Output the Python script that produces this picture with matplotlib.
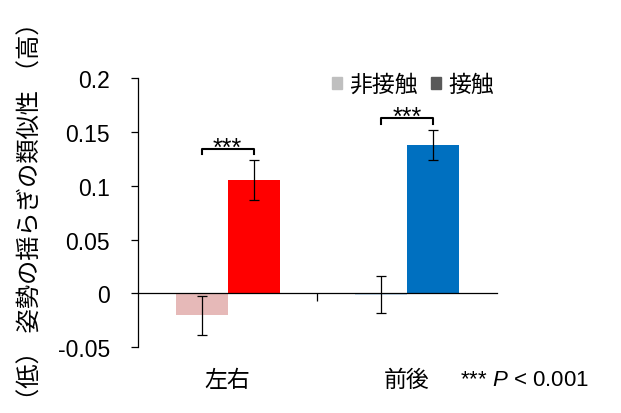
import matplotlib.pyplot as plt
from matplotlib.patches import Patch

plt.rcParams['font.family'] = ['Liberation Sans', 'Noto Sans CJK JP']
plt.rcParams['mathtext.fontset'] = 'custom'
plt.rcParams['mathtext.rm'] = 'Liberation Sans'
plt.rcParams['mathtext.it'] = 'Liberation Sans:italic'

categories = ['左右', '前後']
no_touch = [-0.0205, -0.0013]
no_touch_err = [0.0185, 0.017]
touch = [0.105, 0.138]
touch_err = [0.0185, 0.014]
yticks = [-0.05, 0, 0.05, 0.1, 0.15, 0.2]
ytick_labels = ['-0.05', '0', '0.05', '0.1', '0.15', '0.2']

no_touch_colors = ['#e6b9b8', '#c5dbed']
touch_colors = ['#ff0000', '#0070c0']

fig = plt.figure(figsize=(6.21, 4.14), dpi=100)
ax = fig.add_axes([0.222, 0.159, 0.578, 0.650])

w = 0.29
x = [0, 1]
x_nt = [i - w / 2 for i in x]
x_t = [i + w / 2 for i in x]

ax.bar(x_nt, no_touch, w, color=no_touch_colors)
ax.bar(x_t, touch, w, color=touch_colors)
ax.errorbar(x_nt, no_touch, yerr=no_touch_err, fmt='none', ecolor='black',
            elinewidth=0.9, capsize=3.5, capthick=0.9)
ax.errorbar(x_t, touch, yerr=touch_err, fmt='none', ecolor='black',
            elinewidth=0.9, capsize=3.5, capthick=0.9)

# significance brackets
for i in range(2):
    top = touch[i] + touch_err[i] + 0.011
    ax.plot([x_nt[i], x_nt[i], x_t[i], x_t[i]], [top - 0.0055, top, top, top - 0.0055],
            color='black', lw=1.5)
    ax.text(x[i], top - 0.006, '***', ha='center', va='baseline', fontsize=18)

ax.set_xlim(-0.5, 1.5)
ax.set_ylim(-0.05, 0.2)
ax.set_yticks(yticks)
ax.set_yticklabels(ytick_labels, fontsize=16.5)
ax.set_xticks([0.5])
ax.set_xticklabels([''])
ax.tick_params(axis='x', direction='out', length=6, width=0.9)
ax.tick_params(axis='y', direction='out', length=5, width=0.9, pad=15)
ax.spines['top'].set_visible(False)
ax.spines['right'].set_visible(False)
ax.spines['bottom'].set_position(('data', 0))
ax.spines['bottom'].set_linewidth(0.9)
ax.spines['left'].set_linewidth(0.9)

for i, c in enumerate(categories):
    ax.text(x[i], -0.08, c, ha='center', va='center', fontsize=16.5,
            transform=ax.transData)

fig.text(0.74, 0.081, r'*** $\it{P}$ < 0.001', ha='left', va='center', fontsize=16)

fig.text(0.05, 0.49, '（低） 姿勢の揺らぎの類似性 （高）', rotation=90,
         ha='center', va='center', fontsize=17.5)

handles = [Patch(color='#bfbfbf', label='非接触'), Patch(color='#595959', label='接触')]
ax.legend(handles=handles, loc='upper right', bbox_to_anchor=(1.05, 1.095), ncol=2,
          frameon=False, fontsize=16.5, handlelength=0.45, handleheight=0.45,
          handletextpad=0.3, columnspacing=0.6)

fig.savefig('out.png', dpi=100)
